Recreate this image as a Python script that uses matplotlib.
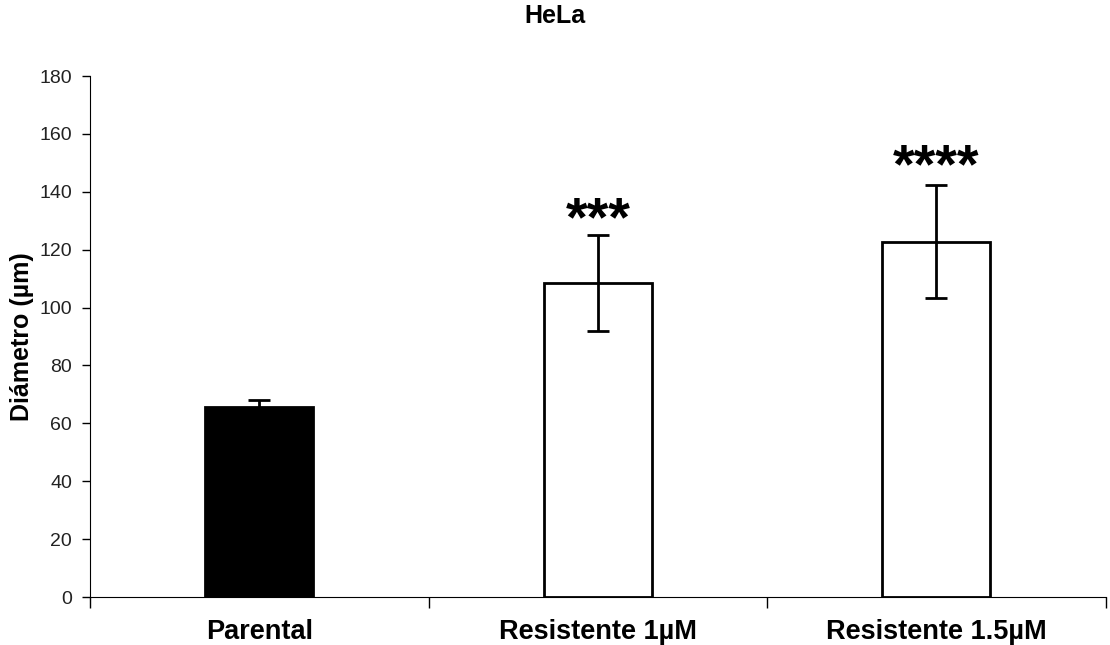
import numpy as np
import matplotlib.pyplot as plt

plt.rcParams['font.family'] = ['Liberation Sans', 'DejaVu Sans']

categories = ['Parental', 'Resistente 1µM', 'Resistente 1.5µM']
diameter = [65.6, 108.5, 122.7]
errors = [2.5, 16.5, 19.5]
stars = ['', '***', '****']
star_pos = [None, 130.0, 148.2]
colors = ['black', 'white', 'white']

fig = plt.figure(figsize=(11.1, 6.45), dpi=100)
ax = fig.add_axes([0.0811, 0.0744, 0.9149, 0.8076])

x = np.arange(len(categories))
ax.bar(x, diameter, width=0.32, color=colors, edgecolor='black', linewidth=2, zorder=2)
ax.errorbar(x, diameter, yerr=errors, fmt='none', ecolor='black', elinewidth=2,
            capsize=8, capthick=2, zorder=3)

for xi, s, y in zip(x, stars, star_pos):
    if s:
        ax.text(xi, y, s, ha='center', va='center', fontsize=40, fontweight='bold')

ax.set_xlim(-0.5, 2.5)
ax.set_ylim(0, 180)
ax.set_yticks(np.arange(0, 181, 20))
ax.tick_params(axis='y', labelsize=14, length=6, width=1, pad=7, labelcolor='#222222')

# category labels centred, tick marks on the boundaries between groups
ax.set_xticks(x)
ax.set_xticklabels(categories, fontsize=19.5, fontweight='bold')
ax.tick_params(axis='x', which='major', length=0, pad=16)
ax.set_xticks([-0.5, 0.5, 1.5, 2.5], minor=True)
ax.tick_params(axis='x', which='minor', length=8, width=1)

ax.spines['top'].set_visible(False)
ax.spines['right'].set_visible(False)
ax.set_ylabel('Diámetro (µm)', fontsize=18, fontweight='bold', labelpad=4)
fig.text(0.5, 0.975, 'HeLa', ha='center', va='center', fontsize=18, fontweight='bold')

fig.savefig('out.png', dpi=100)
